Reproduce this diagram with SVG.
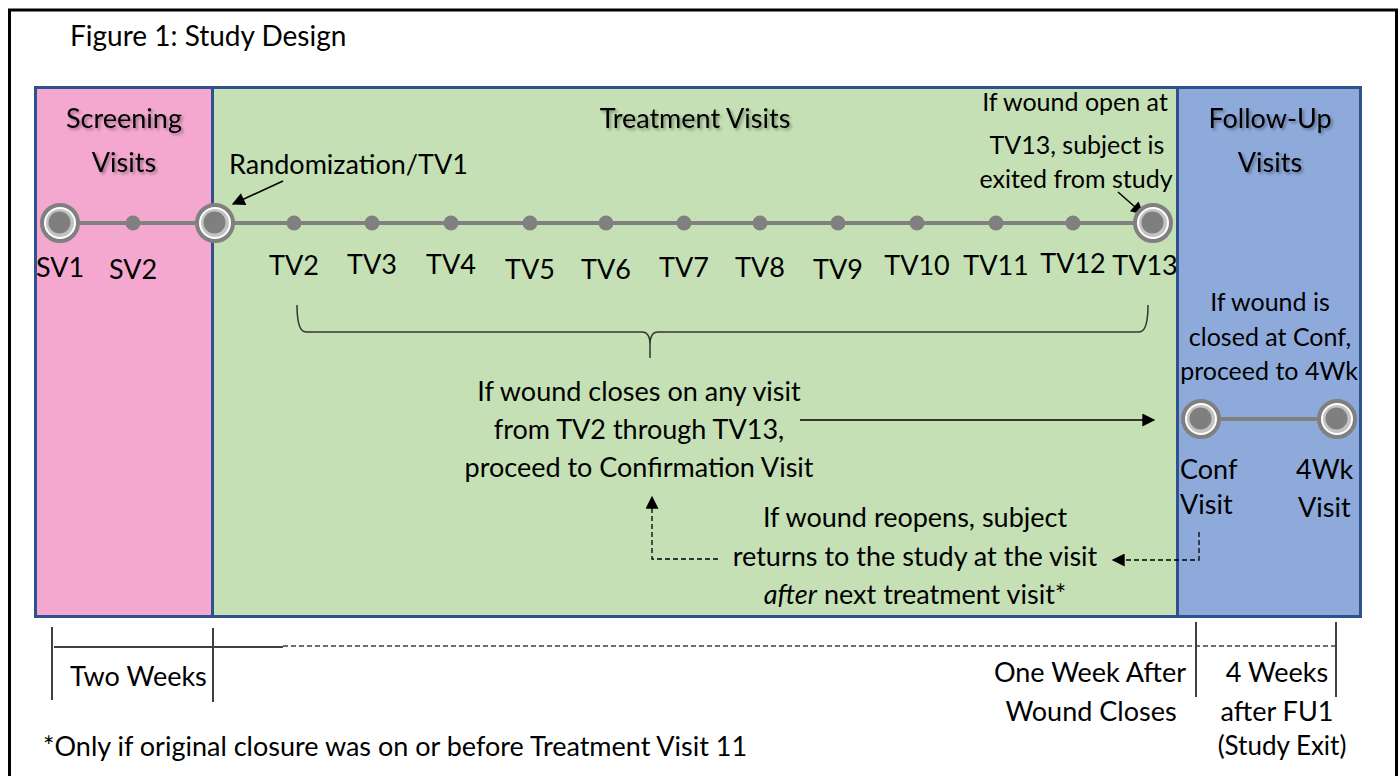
<svg xmlns="http://www.w3.org/2000/svg" width="1400" height="776" viewBox="0 0 1400 776">
<defs>
<style>
text{font-family:Lato,"Open Sans","Liberation Sans",sans-serif;font-size:27px;fill:#000}
.sm{font-size:25px}
.hd{filter:url(#sh)}
.mid{text-anchor:middle}
.end{text-anchor:end}
.tl{stroke:#808080;stroke-width:4;fill:none}
.dot{fill:#808080}
.ring{fill:#fff;stroke:#808080;stroke-width:4}
.ring2{fill:#c3c3c3}
.core{fill:#7f7f7f}
.arr{stroke:#000;stroke-width:1.5;fill:none}
.dash{stroke:#000;stroke-width:1.3;fill:none;stroke-dasharray:5 3}
.scale{stroke:#404040;stroke-width:2;fill:none}
.panel{stroke:#2f528f;stroke-width:3}
</style>
<filter id="sh" x="-10%" y="-20%" width="130%" height="150%">
<feGaussianBlur in="SourceAlpha" stdDeviation="1.5"/>
<feOffset dx="1.5" dy="2" result="b"/>
<feComponentTransfer><feFuncA type="linear" slope="0.35"/></feComponentTransfer>
<feMerge><feMergeNode/><feMergeNode in="SourceGraphic"/></feMerge>
</filter>
<marker id="ahb" viewBox="0 0 10 10" refX="9" refY="5" markerWidth="15" markerHeight="13" markerUnits="userSpaceOnUse" orient="auto">
<path d="M0,0 L10,5 L0,10 z" fill="#000"/>
</marker>
<g id="big">
<circle r="18" class="ring"/>
<circle r="14" class="ring2"/>
<circle cx="-0.5" cy="-0.5" r="11" class="core"/>
</g>
</defs>
<rect x="0" y="0" width="1400" height="776" fill="#fff"/>
<path d="M9.5,790 V10 H1396.5 V790" stroke="#000" stroke-width="3" fill="none"/>
<text x="70" y="46" style="font-size:28px">Figure 1: Study Design</text>

<g id="screening">
<rect x="35.5" y="87.5" width="177" height="529" fill="#f4a8cf" class="panel"/>
<text class="mid hd" x="124" y="128">Screening</text>
<text class="mid hd" x="124" y="172">Visits</text>
</g>
<g id="treatment">
<rect x="212.5" y="87.5" width="965" height="529" fill="#c5e0b4" class="panel"/>
<text class="mid hd" x="695" y="128">Treatment Visits</text>
</g>
<g id="followup">
<rect x="1177.5" y="87.5" width="183" height="529" fill="#8eaadb" class="panel"/>
<text class="mid hd" x="1270" y="128">Follow-Up</text>
<text class="mid hd" x="1270" y="172">Visits</text>
</g>

<g id="connectors">
<line x1="60" y1="223" x2="1153" y2="223" class="tl"/>
<line x1="1201" y1="419" x2="1337" y2="419" class="tl"/>
<line x1="283" y1="181" x2="233" y2="204" class="arr" marker-end="url(#ahb)"/>
<line x1="1118" y1="192" x2="1143" y2="214" class="arr" marker-end="url(#ahb)"/>
<line x1="800" y1="420" x2="1154" y2="420" class="arr" marker-end="url(#ahb)"/>
<path d="M1199,532 V560 H1113" class="dash" marker-end="url(#ahb)"/>
<path d="M718,559 H652 V497" class="dash" marker-end="url(#ahb)"/>
<path d="M297,305 Q297,332 306,332 H642 Q650,332 650,345 V358 M650,345 Q650,332 658,332 H1139 Q1148,332 1148,305" stroke="#333" stroke-width="1.5" fill="none"/>
</g>

<g id="sv1"><use href="#big" x="60" y="223"/><text class="mid" x="60" y="277">SV1</text></g>
<g id="sv2"><circle cx="133" cy="223" r="7.5" class="dot"/><text class="mid" x="133" y="279">SV2</text></g>
<g id="tv1"><use href="#big" x="215" y="223"/><text x="229" y="174">Randomization/TV1</text></g>
<g id="tv2"><circle cx="294" cy="223" r="7.5" class="dot"/><text class="mid" x="294" y="275">TV2</text></g>
<g id="tv3"><circle cx="372" cy="223" r="7.5" class="dot"/><text class="mid" x="372" y="274">TV3</text></g>
<g id="tv4"><circle cx="451" cy="223" r="7.5" class="dot"/><text class="mid" x="451" y="274">TV4</text></g>
<g id="tv5"><circle cx="530" cy="223" r="7.5" class="dot"/><text class="mid" x="530" y="279">TV5</text></g>
<g id="tv6"><circle cx="606" cy="223" r="7.5" class="dot"/><text class="mid" x="606" y="279">TV6</text></g>
<g id="tv7"><circle cx="684" cy="223" r="7.5" class="dot"/><text class="mid" x="684" y="277">TV7</text></g>
<g id="tv8"><circle cx="760" cy="223" r="7.5" class="dot"/><text class="mid" x="760" y="277">TV8</text></g>
<g id="tv9"><circle cx="838" cy="223" r="7.5" class="dot"/><text class="mid" x="838" y="279">TV9</text></g>
<g id="tv10"><circle cx="917" cy="223" r="7.5" class="dot"/><text class="mid" x="917" y="275">TV10</text></g>
<g id="tv11"><circle cx="996" cy="223" r="7.5" class="dot"/><text class="mid" x="996" y="275">TV11</text></g>
<g id="tv12"><circle cx="1073" cy="223" r="7.5" class="dot"/><text class="mid" x="1073" y="273">TV12</text></g>
<g id="tv13"><use href="#big" x="1153" y="223"/><text class="mid" x="1145" y="275">TV13</text>
<text class="mid sm" x="1075" y="111">If wound open at</text>
<text class="mid sm" x="1077" y="154">TV13, subject is</text>
<text class="mid sm" x="1076" y="188">exited from study</text>
</g>

<g id="closes-note">
<text class="mid" x="639" y="401">If wound closes on any visit</text>
<text class="mid" x="639" y="439">from TV2 through TV13,</text>
<text class="mid" x="639" y="477">proceed to Confirmation Visit</text>
</g>
<g id="reopen-note">
<text class="mid" x="915" y="527">If wound reopens, subject</text>
<text class="mid" x="915" y="566">returns to the study at the visit</text>
<text class="mid" x="915" y="604"><tspan font-style="italic">after</tspan> next treatment visit*</text>
</g>
<g id="fu-note">
<text class="mid sm" x="1270" y="311">If wound is</text>
<text class="mid sm" x="1270" y="346">closed at Conf,</text>
<text class="mid sm" x="1269" y="380">proceed to 4Wk</text>
</g>
<g id="conf"><use href="#big" x="1201" y="419"/><text x="1180" y="479">Conf</text><text x="1180" y="514">Visit</text></g>
<g id="wk4"><use href="#big" x="1337" y="419"/><text x="1296" y="479">4Wk</text><text x="1298" y="517">Visit</text></g>

<g id="scale">
<path d="M52,627 V700 M213,628 V702 M1196,622 V697 M1336,622 V697" class="scale"/>
<path d="M54,647 H283" class="scale"/>
<path d="M283,646 H1336" stroke="#404040" stroke-width="1.3" stroke-dasharray="5 3" fill="none"/>
<text x="70" y="686">Two Weeks</text>
<text class="end" x="1186" y="682">One Week After</text>
<text class="mid" x="1091" y="721">Wound Closes</text>
<text class="mid" x="1277" y="682">4 Weeks</text>
<text class="mid" x="1277" y="721">after FU1</text>
<text class="mid" x="1282" y="755" style="font-size:26px">(Study Exit)</text>
<text x="43" y="756">*Only if original closure was on or before Treatment Visit 11</text>
</g>
</svg>
